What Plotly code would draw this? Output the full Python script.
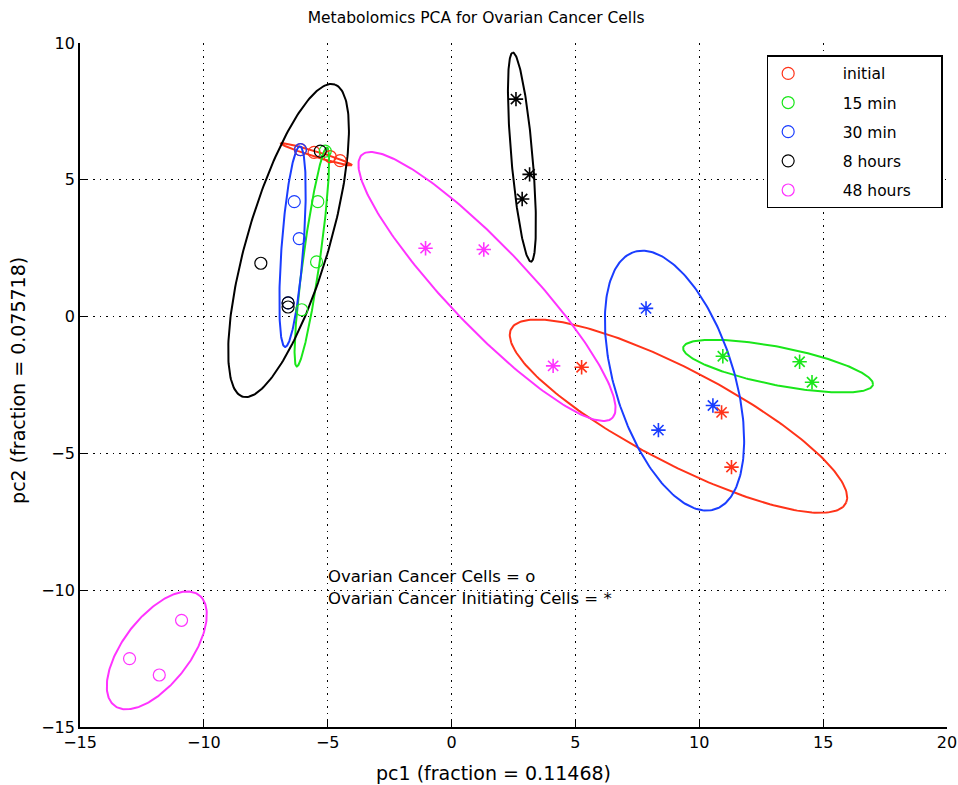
import numpy as np
import plotly.graph_objects as go

groups = ["initial", "15 min", "30 min", "8 hours", "48 hours"]
colors = ["#ff3319", "#1ae61a", "#1a3dff", "#000000", "#ff33ff"]

# Ovarian Cancer Cells (o), one list per group
cells_x = [[-6.1, -5.55, -4.9, -4.5],
           [-5.1, -5.4, -5.45, -6.05],
           [-6.1, -6.35, -6.15, -6.6],
           [-5.3, -7.7, -6.6, -6.6],
           [-10.9, -13.0, -11.8]]
cells_y = [[6.1, 6.0, 5.85, 5.7],
           [6.05, 4.2, 2.0, 0.25],
           [6.1, 4.2, 2.85, 0.5],
           [6.05, 1.95, 0.5, 0.35],
           [-11.1, -12.5, -13.1]]

# Ovarian Cancer Initiating Cells (*)
ics_x = [[5.25, 10.9, 11.3],
         [10.95, 14.05, 14.55],
         [7.85, 10.55, 8.35],
         [2.6, 3.15, 2.85],
         [-1.05, 1.3, 4.1]]
ics_y = [[-1.85, -3.5, -5.5],
         [-1.45, -1.65, -2.4],
         [0.3, -3.25, -4.15],
         [7.95, 5.2, 4.3],
         [2.5, 2.45, -1.8]]

# confidence ellipses: centre x, centre y, semi-major, semi-minor, angle (deg)
cells_ell_cx = [-5.45, -5.64, -6.42, -6.58, -11.9]
cells_ell_cy = [5.93, 2.18, 2.56, 2.78, -12.2]
cells_ell_a = [1.49, 4.05, 3.68, 6.0, 2.65]
cells_ell_b = [0.1, 0.34, 0.44, 1.64, 1.3]
cells_ell_ang = [-15.6, 81.3, 85.3, 71.8, 48.0]

ics_ell_cx = [9.16, 13.18, 9.0, 2.84, 1.43]
ics_ell_cy = [-3.64, -1.81, -2.34, 5.83, 1.1]
ics_ell_a = [7.47, 3.89, 4.98, 3.84, 6.98]
ics_ell_b = [1.75, 0.7, 2.38, 0.43, 1.55]
ics_ell_ang = [-25.0, -10.0, 110.0, 95.5, -43.3]

x_ticks = [-15, -10, -5, 0, 5, 10, 15, 20]
y_ticks = [-15, -10, -5, 0, 5, 10]

FONT = "DejaVu Sans, sans-serif"
NB = "\u00a0"


def ellipse(cx, cy, a, b, ang):
    t = np.linspace(0, 2 * np.pi, 241)
    th = np.deg2rad(ang)
    ex = cx + a * np.cos(th) * np.cos(t) - b * np.sin(th) * np.sin(t)
    ey = cy + a * np.sin(th) * np.cos(t) + b * np.cos(th) * np.sin(t)
    return ex, ey


fig = go.Figure()

for i, g in enumerate(groups):
    ex, ey = ellipse(cells_ell_cx[i], cells_ell_cy[i], cells_ell_a[i], cells_ell_b[i], cells_ell_ang[i])
    fig.add_trace(go.Scatter(x=ex, y=ey, mode="lines", line=dict(color=colors[i], width=2),
                             showlegend=False, hoverinfo="skip"))
    ex, ey = ellipse(ics_ell_cx[i], ics_ell_cy[i], ics_ell_a[i], ics_ell_b[i], ics_ell_ang[i])
    fig.add_trace(go.Scatter(x=ex, y=ey, mode="lines", line=dict(color=colors[i], width=2),
                             showlegend=False, hoverinfo="skip"))

for i, g in enumerate(groups):
    fig.add_trace(go.Scatter(x=cells_x[i], y=cells_y[i], mode="markers",
                             name=NB * 7 + g + NB * 5,
                             legendgroup=g,
                             marker=dict(symbol="circle-open", size=12, color=colors[i],
                                         line=dict(width=1.2, color=colors[i]))))
    fig.add_trace(go.Scatter(x=ics_x[i], y=ics_y[i], mode="markers", name=g + " ICS",
                             showlegend=False,
                             marker=dict(symbol="asterisk-open", size=12, color=colors[i],
                                         line=dict(width=1.6, color=colors[i]))))

fig.add_annotation(x=-5.05, y=-9.5, xref="x", yref="y", text="Ovarian Cancer Cells = o",
                   showarrow=False, xanchor="left", yanchor="middle",
                   font=dict(family=FONT, size=16.5, color="black"))
fig.add_annotation(x=-5.05, y=-10.3, xref="x", yref="y", text="Ovarian Cancer Initiating Cells = *",
                   showarrow=False, xanchor="left", yanchor="middle",
                   font=dict(family=FONT, size=16.5, color="black"))

# axis titles placed as in the original figure
fig.add_annotation(x=0.4775, y=-0.067, xref="paper", yref="paper",
                   text="pc1 (fraction = 0.11468)", showarrow=False,
                   xanchor="center", yanchor="middle",
                   font=dict(family=FONT, size=19, color="black"))
fig.add_annotation(x=-0.0715, y=0.506, xref="paper", yref="paper",
                   text="pc2 (fraction = 0.075718)", showarrow=False, textangle=-90,
                   xanchor="center", yanchor="middle",
                   font=dict(family=FONT, size=19, color="black"))

axis_common = dict(showgrid=True, gridcolor="black", gridwidth=1, griddash="1.5px,5px",
                   zeroline=False, showline=True, linecolor="black", linewidth=1.8,
                   ticks="inside", ticklen=7, tickcolor="black", automargin=False,
                   tickfont=dict(family=FONT, size=16, color="black"))

fig.update_layout(
    width=958, height=785,
    margin=dict(l=80, r=11, t=43, b=58, autoexpand=False),
    paper_bgcolor="white", plot_bgcolor="white",
    title=dict(text="Metabolomics PCA for Ovarian Cancer Cells", x=0.497, xanchor="center",
               y=0.977, yanchor="middle", font=dict(family=FONT, size=15.5, color="black")),
    xaxis=dict(range=[-15, 20], tickvals=x_ticks, **axis_common),
    yaxis=dict(range=[-15, 10], tickvals=y_ticks, **axis_common),
    legend=dict(x=0.792, y=0.982, xanchor="left", yanchor="top",
                bordercolor="black", borderwidth=1.5, bgcolor="white",
                font=dict(family=FONT, size=15.5, color="black"),
                tracegroupgap=6),
    showlegend=True,
)

fig.write_html("out.html",
               config={"displayModeBar": False, "responsive": False},
               post_script="document.body.style.margin='0px';document.body.style.overflow='hidden';")
